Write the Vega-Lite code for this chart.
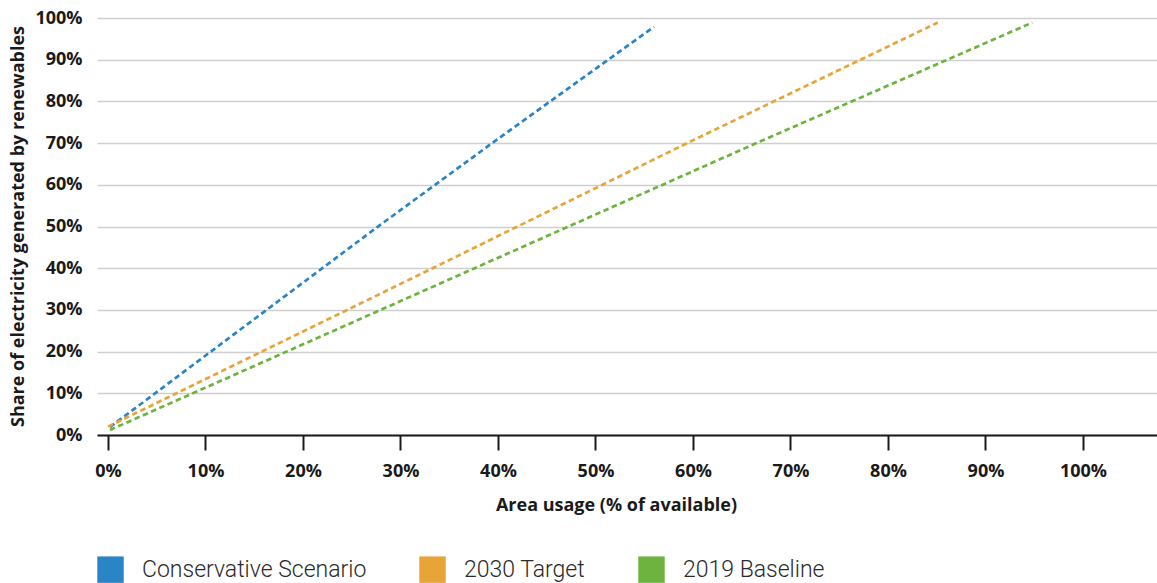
{
  "$schema": "https://vega.github.io/schema/vega-lite/v6.json",
  "width": 1060,
  "height": 417,
  "autosize": "none",
  "padding": {"left": 97, "top": 18, "right": 0, "bottom": 148},
  "background": "white",
  "data": {
    "values": [
      {"series": "Conservative Scenario", "area": 0.002, "share": 0.019},
      {"series": "Conservative Scenario", "area": 0.277, "share": 0.500},
      {"series": "Conservative Scenario", "area": 0.394, "share": 0.700},
      {"series": "Conservative Scenario", "area": 0.560, "share": 0.979},
      {"series": "2030 Target", "area": 0.0, "share": 0.020},
      {"series": "2030 Target", "area": 0.333, "share": 0.400},
      {"series": "2030 Target", "area": 0.594, "share": 0.700},
      {"series": "2030 Target", "area": 0.851, "share": 0.989},
      {"series": "2019 Baseline", "area": 0.002, "share": 0.012},
      {"series": "2019 Baseline", "area": 0.376, "share": 0.400},
      {"series": "2019 Baseline", "area": 0.665, "share": 0.700},
      {"series": "2019 Baseline", "area": 0.948, "share": 0.989}
    ]
  },
  "mark": {"type": "line", "strokeDash": [5.5, 3.5], "strokeWidth": 2.7},
  "encoding": {
    "x": {
      "field": "area",
      "type": "quantitative",
      "scale": {"domain": [-0.01128, 1.0759], "nice": false, "zero": false},
      "axis": {
        "title": "Area usage (% of available)",
        "values": [0, 0.1, 0.2, 0.3, 0.4, 0.5, 0.6, 0.7, 0.8, 0.9, 1.0],
        "format": ".0%",
        "grid": false,
        "domainColor": "#1a1a1a",
        "domainWidth": 2,
        "tickColor": "#1a1a1a",
        "tickWidth": 2,
        "tickSize": 15,
        "labelPadding": 12,
        "labelFont": "Open Sans",
        "labelFontWeight": "bold",
        "labelFontSize": 18,
        "labelColor": "#1a1a1a",
        "titleFont": "Open Sans",
        "titleFontWeight": "bold",
        "titleFontSize": 18,
        "titleColor": "#1a1a1a",
        "titleX": 519,
        "titleY": 70,
        "titleBaseline": "middle"
      }
    },
    "y": {
      "field": "share",
      "type": "quantitative",
      "scale": {"domain": [0, 1], "nice": false},
      "axis": {
        "title": "Share of electricity generated by renewables",
        "values": [0, 0.1, 0.2, 0.3, 0.4, 0.5, 0.6, 0.7, 0.8, 0.9, 1.0],
        "format": ".0%",
        "grid": true,
        "gridColor": "#cfcfcf",
        "gridWidth": 1.5,
        "domain": false,
        "ticks": false,
        "labelPadding": 15,
        "labelFont": "Open Sans",
        "labelFontWeight": "bold",
        "labelFontSize": 18,
        "labelColor": "#1a1a1a",
        "titleFont": "Open Sans",
        "titleFontWeight": "bold",
        "titleFontSize": 18,
        "titleColor": "#1a1a1a",
        "titleX": -79,
        "titleY": 208,
        "titleBaseline": "middle"
      }
    },
    "color": {
      "field": "series",
      "type": "nominal",
      "scale": {
        "domain": ["Conservative Scenario", "2030 Target", "2019 Baseline"],
        "range": ["#2b84c6", "#e7a537", "#6db33f"]
      },
      "legend": {
        "title": null,
        "orient": "none",
        "direction": "horizontal",
        "legendX": 0,
        "legendY": 538,
        "padding": 0,
        "symbolType": "square",
        "symbolSize": 700,
        "symbolStrokeWidth": 0,
        "symbolOpacity": 1,
        "symbolDash": [],
        "labelFont": "Roboto",
        "labelFontWeight": 300,
        "labelFontSize": 23,
        "labelColor": "#2a2a2a",
        "labelOffset": 18,
        "columnPadding": 52,
        "labelLimit": 400,
        "encode": {
          "symbols": {
            "update": {
              "fill": {"scale": "color", "field": "value"},
              "fillOpacity": {"value": 1},
              "strokeWidth": {"value": 0}
            }
          }
        }
      }
    }
  },
  "config": {
    "view": {"stroke": null}
  }
}
